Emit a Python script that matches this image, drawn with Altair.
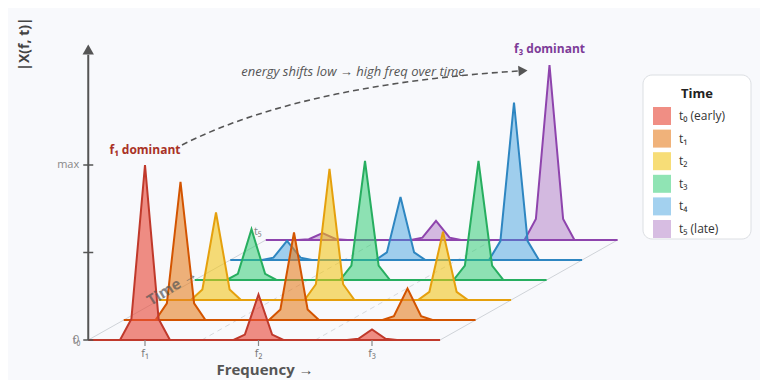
import altair as alt
import pandas as pd

# ---------------- data ----------------
SERIES = ["t₀ (early)", "t₁", "t₂", "t₃", "t₄", "t₅ (late)"]
FREQ_LABELS = ["f₁", "f₂", "f₃"]
PEAK_FREQS = [1.0, 2.0, 3.0]
AMP_F1 = [1.00, 0.79, 0.50, 0.29, 0.11, 0.04]
AMP_F2 = [0.26, 0.50, 0.75, 0.68, 0.36, 0.11]
AMP_F3 = [0.06, 0.18, 0.39, 0.68, 0.90, 1.00]
# shape of a single peak as seen in the picture (freq offset, fraction of peak)
PEAK_OFFSETS = [-0.22, -0.12, 0.0, 0.12, 0.22]
PEAK_SHAPE = [0.0, 0.12, 1.0, 0.12, 0.0]
F_MIN, F_MAX = 0.5, 3.6
Y_TICKS = [0.0, 0.5, 1.0]
Y_TICK_LABELS = ["0", "", "max"]
FLOOR_DASHED = [1.5, 2.5]

FILL_COLORS = ["#e74c3c", "#e67e22", "#f1c40f", "#2ecc71", "#3498db", "#9b59b6"]
FILL_OPACITY = [0.63, 0.6, 0.57, 0.53, 0.45, 0.4]
STROKE_COLORS = ["#c0392b", "#d35400", "#e5a00d", "#27ae60", "#2e86c1", "#8e44ad"]

# ---------------- oblique projection ----------------
PX_F = 113.5          # px per frequency unit
PX_A = 175.0          # px per amplitude unit
DX_T = 35.5 / PX_F    # shift per time step (freq units)
DY_T = 20.0 / PX_A    # lift per time step (amplitude units)
W, H = 752, 372
ORIG_X, ORIG_Y = 145 - 8, 340 - 8   # where f=1, amp=0 sits inside the view
X_DOM = [1 - ORIG_X / PX_F, 1 - ORIG_X / PX_F + W / PX_F]
Y_DOM = [ORIG_Y / PX_A - H / PX_A, ORIG_Y / PX_A]
xs = alt.Scale(domain=X_DOM, nice=False, zero=False)
ys = alt.Scale(domain=Y_DOM, nice=False, zero=False)
FONT = "Open Sans"

amps = [AMP_F1, AMP_F2, AMP_F3]
rows = []
for i, s in enumerate(SERIES):
    pts = [(F_MIN, 0.0)]
    for k, fc in enumerate(PEAK_FREQS):
        for off, sh in zip(PEAK_OFFSETS, PEAK_SHAPE):
            pts.append((fc + off, amps[k][i] * sh))
    pts.append((F_MAX, 0.0))
    for j, (f, a) in enumerate(pts):
        rows.append({"series": s, "t": i, "idx": j, "f": f, "amp": a,
                     "X": f + i * DX_T, "Y": a + i * DY_T, "Y0": i * DY_T})
spec = pd.DataFrame(rows)

X = lambda f: alt.X(f, scale=xs, axis=None)
Y = lambda f: alt.Y(f, scale=ys, axis=None)

# legend box and title (decoration around the legend)
legend_box = alt.Chart(pd.DataFrame({"a": [0]})).mark_rect(
    fill="white", stroke="#dcdfe3", strokeWidth=1, cornerRadius=9).encode(
    x=alt.value(635), x2=alt.value(743), y=alt.value(67), y2=alt.value(231))
legend_title = alt.Chart(pd.DataFrame({"text": ["Time"]})).mark_text(
    fontSize=13, fontWeight="bold", color="#222222", font=FONT, baseline="middle").encode(
    x=alt.value(689), y=alt.value(86), text="text:N")

# floor lines
floor_rows = []
for f, kind in [(F_MIN, "edge"), (F_MAX, "edge")] + [(f, "dash") for f in FLOOR_DASHED]:
    for t in [0, len(SERIES) - 1]:
        floor_rows.append({"f": f, "kind": kind, "X": f + t * DX_T, "Y": t * DY_T})
floor = pd.DataFrame(floor_rows)
floor_edge = alt.Chart(floor[floor.kind == "edge"]).mark_line(color="#cfd3d8", strokeWidth=1).encode(
    x=X("X:Q"), y=Y("Y:Q"), detail="f:N")
floor_dash = alt.Chart(floor[floor.kind == "dash"]).mark_line(color="#d6d9dd", strokeWidth=1, strokeDash=[5, 4]).encode(
    x=X("X:Q"), y=Y("Y:Q"), detail="f:N")

# legend swatch opacity follows each series' fill opacity
names = "[" + ",".join("'" + s + "'" for s in SERIES) + "]"
ops = "[" + ",".join(str(o) for o in FILL_OPACITY) + "]"
op_expr = f"{ops}[indexof({names}, datum.value)]"
leg = alt.Legend(title=None, orient="none", legendX=645, legendY=99,
                 symbolType="square", symbolSize=324, symbolStrokeWidth=0,
                 symbolOpacity={"expr": op_expr},
                 labelFontSize=12, labelFont=FONT, padding=0, rowPadding=4.6,
                 labelColor="#333333", labelOffset=8)

# spectrum slices, back to front
slices = []
for i in reversed(range(len(SERIES))):
    slices.append(
        alt.Chart(spec).transform_filter(alt.datum.t == i).mark_area(
            strokeWidth=2, strokeJoin="miter", interpolate="linear", fillOpacity=FILL_OPACITY[i]
        ).encode(
            x=X("X:Q"), y=Y("Y:Q"), y2="Y0:Q",
            fill=alt.Fill("series:N", scale=alt.Scale(domain=SERIES, range=FILL_COLORS), legend=leg),
            stroke=alt.Stroke("series:N", scale=alt.Scale(domain=SERIES, range=STROKE_COLORS),
                              legend=None),
        )
    )

# y axis
AXIS_TOP = 1.63
yaxis_df = pd.DataFrame({"X": [F_MIN], "Y": [0.0], "Y2": [AXIS_TOP]})
yaxis = alt.Chart(yaxis_df).mark_rule(color="#555555", strokeWidth=2).encode(
    x=X("X:Q"), y=Y("Y:Q"), y2="Y2:Q")
arrow_df = pd.DataFrame({"X": [F_MIN], "Y": [AXIS_TOP + 0.03]})
yarrow = alt.Chart(arrow_df).mark_point(shape="triangle-up", filled=True, size=130,
                                        color="#555555", opacity=1).encode(x=X("X:Q"), y=Y("Y:Q"))
ytick_df = pd.DataFrame({"Y": Y_TICKS, "label": Y_TICK_LABELS,
                         "X1": [F_MIN - 5 / PX_F] * 3, "X2": [F_MIN + 5 / PX_F] * 3,
                         "X": [F_MIN] * 3})
yticks = alt.Chart(ytick_df).mark_rule(color="#555555", strokeWidth=1.5).encode(
    x=X("X1:Q"), x2="X2:Q", y=Y("Y:Q"))
ylabels = alt.Chart(ytick_df).mark_text(align="right", baseline="middle", dx=-9, fontSize=11,
                                        color="#888888", font=FONT).encode(
    x=X("X:Q"), y=Y("Y:Q"), text="label:N")
ytitle_df = pd.DataFrame({"X": [1 - 120 / PX_F], "Y": [296 / PX_A], "text": ["|X(f, t)|"]})
ytitle = alt.Chart(ytitle_df).mark_text(angle=270, fontSize=14, fontWeight="bold", color="#444444",
                                        font=FONT).encode(x=X("X:Q"), y=Y("Y:Q"), text="text:N")

# x axis
xtick_df = pd.DataFrame({"X": PEAK_FREQS, "Y": [0.0] * 3, "Y2": [-6 / PX_A] * 3,
                         "YL": [-13.5 / PX_A] * 3, "label": FREQ_LABELS})
xticks = alt.Chart(xtick_df).mark_rule(color="#888888", strokeWidth=1.2).encode(
    x=X("X:Q"), y=Y("Y:Q"), y2="Y2:Q")
xlabels = alt.Chart(xtick_df).mark_text(fontSize=11, color="#777777", baseline="middle",
                                        font=FONT).encode(
    x=X("X:Q"), y=Y("YL:Q"), text="label:N")
xtitle_df = pd.DataFrame({"X": [1 + 120 / PX_F], "Y": [-30 / PX_A], "text": ["Frequency →"]})
xtitle = alt.Chart(xtitle_df).mark_text(fontSize=15, fontWeight="bold", color="#555555",
                                        baseline="middle", font=FONT).encode(
    x=X("X:Q"), y=Y("Y:Q"), text="text:N")

# time labels
tl0 = alt.Chart(pd.DataFrame({"X": [F_MIN], "Y": [0.0], "text": ["t₀"]})).mark_text(
    align="right", baseline="middle", dx=-8, dy=1, fontSize=11, color="#888888", font=FONT).encode(
    x=X("X:Q"), y=Y("Y:Q"), text="text:N")
tl5 = alt.Chart(pd.DataFrame({"X": [F_MIN + 5 * DX_T], "Y": [5 * DY_T], "text": ["t₅"]})).mark_text(
    align="center", baseline="middle", dx=-8, dy=-8, fontSize=11, color="#888888", font=FONT).encode(
    x=X("X:Q"), y=Y("Y:Q"), text="text:N")
time_lbl = alt.Chart(pd.DataFrame({"X": [1 + 27 / PX_F], "Y": [53 / PX_A], "text": ["Time →"]})).mark_text(
    angle=328, fontSize=15, fontWeight="bold", color="#555555", opacity=0.7,
    baseline="middle", font=FONT).encode(x=X("X:Q"), y=Y("Y:Q"), text="text:N")

# annotations
ANN_P0 = (1 + 37 / PX_F, 195 / PX_A)
ANN_P1 = (1 + 155 / PX_F, 255 / PX_A)
ANN_P2 = (1 + 373 / PX_F, 269 / PX_A)
curve = []
N = 30
for k in range(N + 1):
    u = k / N
    cx = (1 - u) ** 2 * ANN_P0[0] + 2 * (1 - u) * u * ANN_P1[0] + u ** 2 * ANN_P2[0]
    cy = (1 - u) ** 2 * ANN_P0[1] + 2 * (1 - u) * u * ANN_P1[1] + u ** 2 * ANN_P2[1]
    curve.append({"k": k, "X": cx, "Y": cy})
curve_df = pd.DataFrame(curve)
ann_curve = alt.Chart(curve_df).mark_line(color="#555555", strokeWidth=1.6, strokeDash=[6, 4]).encode(
    x=X("X:Q"), y=Y("Y:Q"), order="k:Q")
ann_head = alt.Chart(pd.DataFrame({"X": [ANN_P2[0] + 5 / PX_F], "Y": [ANN_P2[1] + 0.3 / PX_A]})).mark_point(
    shape="triangle-right", filled=True, size=110, color="#555555", opacity=1, angle=356).encode(
    x=X("X:Q"), y=Y("Y:Q"))
ann_text = alt.Chart(pd.DataFrame({"X": [1 + 208 / PX_F], "Y": [268 / PX_A],
                                   "text": ["energy shifts low → high freq over time"]})).mark_text(
    fontSize=13, fontStyle="italic", color="#555555", baseline="middle", font=FONT).encode(
    x=X("X:Q"), y=Y("Y:Q"), text="text:N")
f1_dom = alt.Chart(pd.DataFrame({"X": [PEAK_FREQS[0]], "Y": [AMP_F1[0]], "text": ["f₁ dominant"]})).mark_text(
    fontSize=12, fontWeight="bold", color="#a93226", baseline="middle", dy=-15, font=FONT).encode(
    x=X("X:Q"), y=Y("Y:Q"), text="text:N")
f3_dom = alt.Chart(pd.DataFrame({"X": [PEAK_FREQS[2] + 5 * DX_T], "Y": [AMP_F3[5] + 5 * DY_T],
                                 "text": ["f₃ dominant"]})).mark_text(
    fontSize=12, fontWeight="bold", color="#7d3c98", baseline="middle", dy=-16, font=FONT).encode(
    x=X("X:Q"), y=Y("Y:Q"), text="text:N")

chart = alt.layer(
    legend_box, legend_title, floor_edge, floor_dash, *slices, time_lbl,
    yaxis, yarrow, yticks, ylabels, ytitle,
    xticks, xlabels, xtitle, tl0, tl5,
    ann_curve, ann_head, ann_text, f1_dom, f3_dom,
).properties(
    width=W, height=H, padding=0, autosize=alt.AutoSizeParams(type="none"),
    background="#f8f9fc",
).configure_view(stroke=None)

chart.save("out.html", embed_options={"renderer": "svg", "actions": False})
